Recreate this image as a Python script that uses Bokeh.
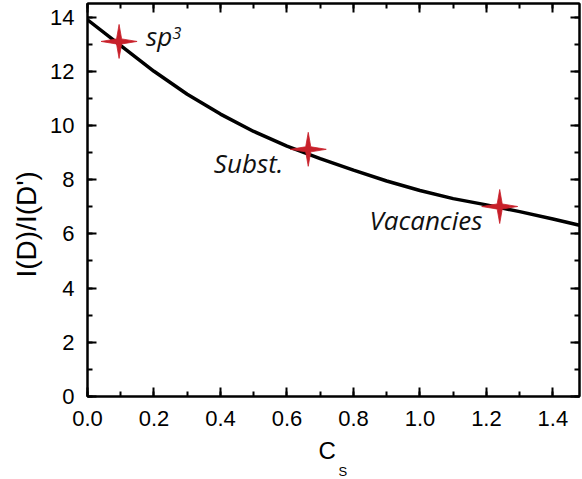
import math
from bokeh.plotting import figure
from bokeh.models import Range1d, LinearAxis, Label, Title, NumeralTickFormatter, SingleIntervalTicker
from bokeh.embed import file_html
from bokeh.resources import INLINE

# ---- data ----
curve_x = [0.0, 0.1, 0.2, 0.3, 0.4, 0.5, 0.6, 0.7, 0.8, 0.9, 1.0, 1.1, 1.2, 1.3, 1.4, 1.48]
curve_y = [13.9, 12.95, 12.0, 11.15, 10.42, 9.78, 9.24, 8.78, 8.35, 7.95, 7.6, 7.3, 7.07, 6.82, 6.55, 6.32]

point_x = [0.095, 0.664, 1.240]
point_y = [13.10, 9.12, 7.01]
point_labels = ["sp", "Subst.", "Vacancies"]
label_x = [0.176, 0.380, 0.848]
label_y = [12.93, 8.24, 6.16]
sup_text = "3"
sup_x = 0.256
sup_y = 13.05

x_label = "C"
x_label_sub = "S"
y_label = "I(D)/I(D')"

X_MIN, X_MAX = 0.0, 1.48
Y_MIN, Y_MAX = 0.0, 14.5
FW, FH = 492, 393

p = figure(frame_width=FW, frame_height=FH,
           x_range=Range1d(X_MIN, X_MAX), y_range=Range1d(Y_MIN, Y_MAX),
           output_backend="svg", toolbar_location=None,
           x_axis_type=None, y_axis_type=None,
           min_border_left=87, min_border_right=3, min_border_top=3, min_border_bottom=83,
           background_fill_color="white", border_fill_color="white")
p.outline_line_color = "black"
p.outline_line_width = 2

TICK_FONT = "Liberation Sans"

def make_axis(ticker, show_labels, standoff=10, fmt=None):
    ax = LinearAxis(ticker=ticker)
    ax.axis_line_width = 2
    ax.axis_line_color = "black"
    ax.major_tick_in = 9
    ax.major_tick_out = 0
    ax.minor_tick_in = 5
    ax.minor_tick_out = 0
    ax.major_tick_line_width = 2
    ax.minor_tick_line_width = 2
    ax.major_tick_line_color = "black"
    ax.minor_tick_line_color = "black"
    if fmt is not None:
        ax.formatter = fmt
    if show_labels:
        ax.major_label_text_font = TICK_FONT
        ax.major_label_text_font_size = "22px"
        ax.major_label_text_color = "black"
        ax.major_label_standoff = standoff
    else:
        ax.major_label_text_font_size = "0px"
        ax.major_label_standoff = 0
        ax.major_label_text_alpha = 0
    return ax

p.add_layout(make_axis(SingleIntervalTicker(interval=0.2, num_minor_ticks=2), True, 14,
                       NumeralTickFormatter(format="0.0")), "below")
p.add_layout(make_axis(SingleIntervalTicker(interval=2, num_minor_ticks=2), True, 13), "left")
p.add_layout(make_axis(SingleIntervalTicker(interval=0.2, num_minor_ticks=2), False), "above")
p.add_layout(make_axis(SingleIntervalTicker(interval=2, num_minor_ticks=2), False), "right")

# axis titles
p.add_layout(Title(text=y_label, align="left", offset=119, standoff=12,
                   text_font=TICK_FONT, text_font_size="28px", text_font_style="normal",
                   text_color="black"), "left")
p.add_layout(Title(text=x_label, align="left", offset=231, standoff=12,
                   text_font=TICK_FONT, text_font_size="24px", text_font_style="normal",
                   text_color="black"), "below")
p.add_layout(Title(text=x_label_sub, align="left", offset=251, standoff=-15,
                   text_font=TICK_FONT, text_font_size="13px", text_font_style="normal",
                   text_color="black"), "below")

# curve
p.line(curve_x, curve_y, line_color="black", line_width=3.5)

# four-pointed stars built around each data point (sizes in pixels, converted via the scales)
px_x = (X_MAX - X_MIN) / FW
px_y = (Y_MAX - Y_MIN) / FH
rx_out, ry_out, r_in = 18.0, 17.0, 3.6
xs, ys = [], []
for cx, cy in zip(point_x, point_y):
    sx, sy = [], []
    for k in range(8):
        ang = k * math.pi / 4
        if k % 2 == 0:
            dx, dy = rx_out * math.cos(ang), ry_out * math.sin(ang)
        else:
            dx, dy = r_in * math.cos(ang), r_in * math.sin(ang)
        sx.append(cx + dx * px_x)
        sy.append(cy + dy * px_y)
    xs.append(sx)
    ys.append(sy)
p.patches(xs, ys, fill_color="#c8202a", line_color="#c8202a", line_width=0.8)

LABEL_SHIFT = 10 * px_y  # compensate text placement
for t, lx, ly in zip(point_labels, label_x, label_y):
    p.add_layout(Label(x=lx, y=ly + LABEL_SHIFT, text=t, text_font="Open Sans", text_font_style="italic",
                       text_font_size="26px", text_color="#111111",
                       text_align="left", text_baseline="alphabetic"))
p.add_layout(Label(x=sup_x, y=sup_y + LABEL_SHIFT, text=sup_text, text_font="Open Sans",
                   text_font_style="italic", text_font_size="16px", text_color="#111111",
                   text_align="left", text_baseline="alphabetic"))

open("out.html", "w").write(file_html(p, INLINE))
